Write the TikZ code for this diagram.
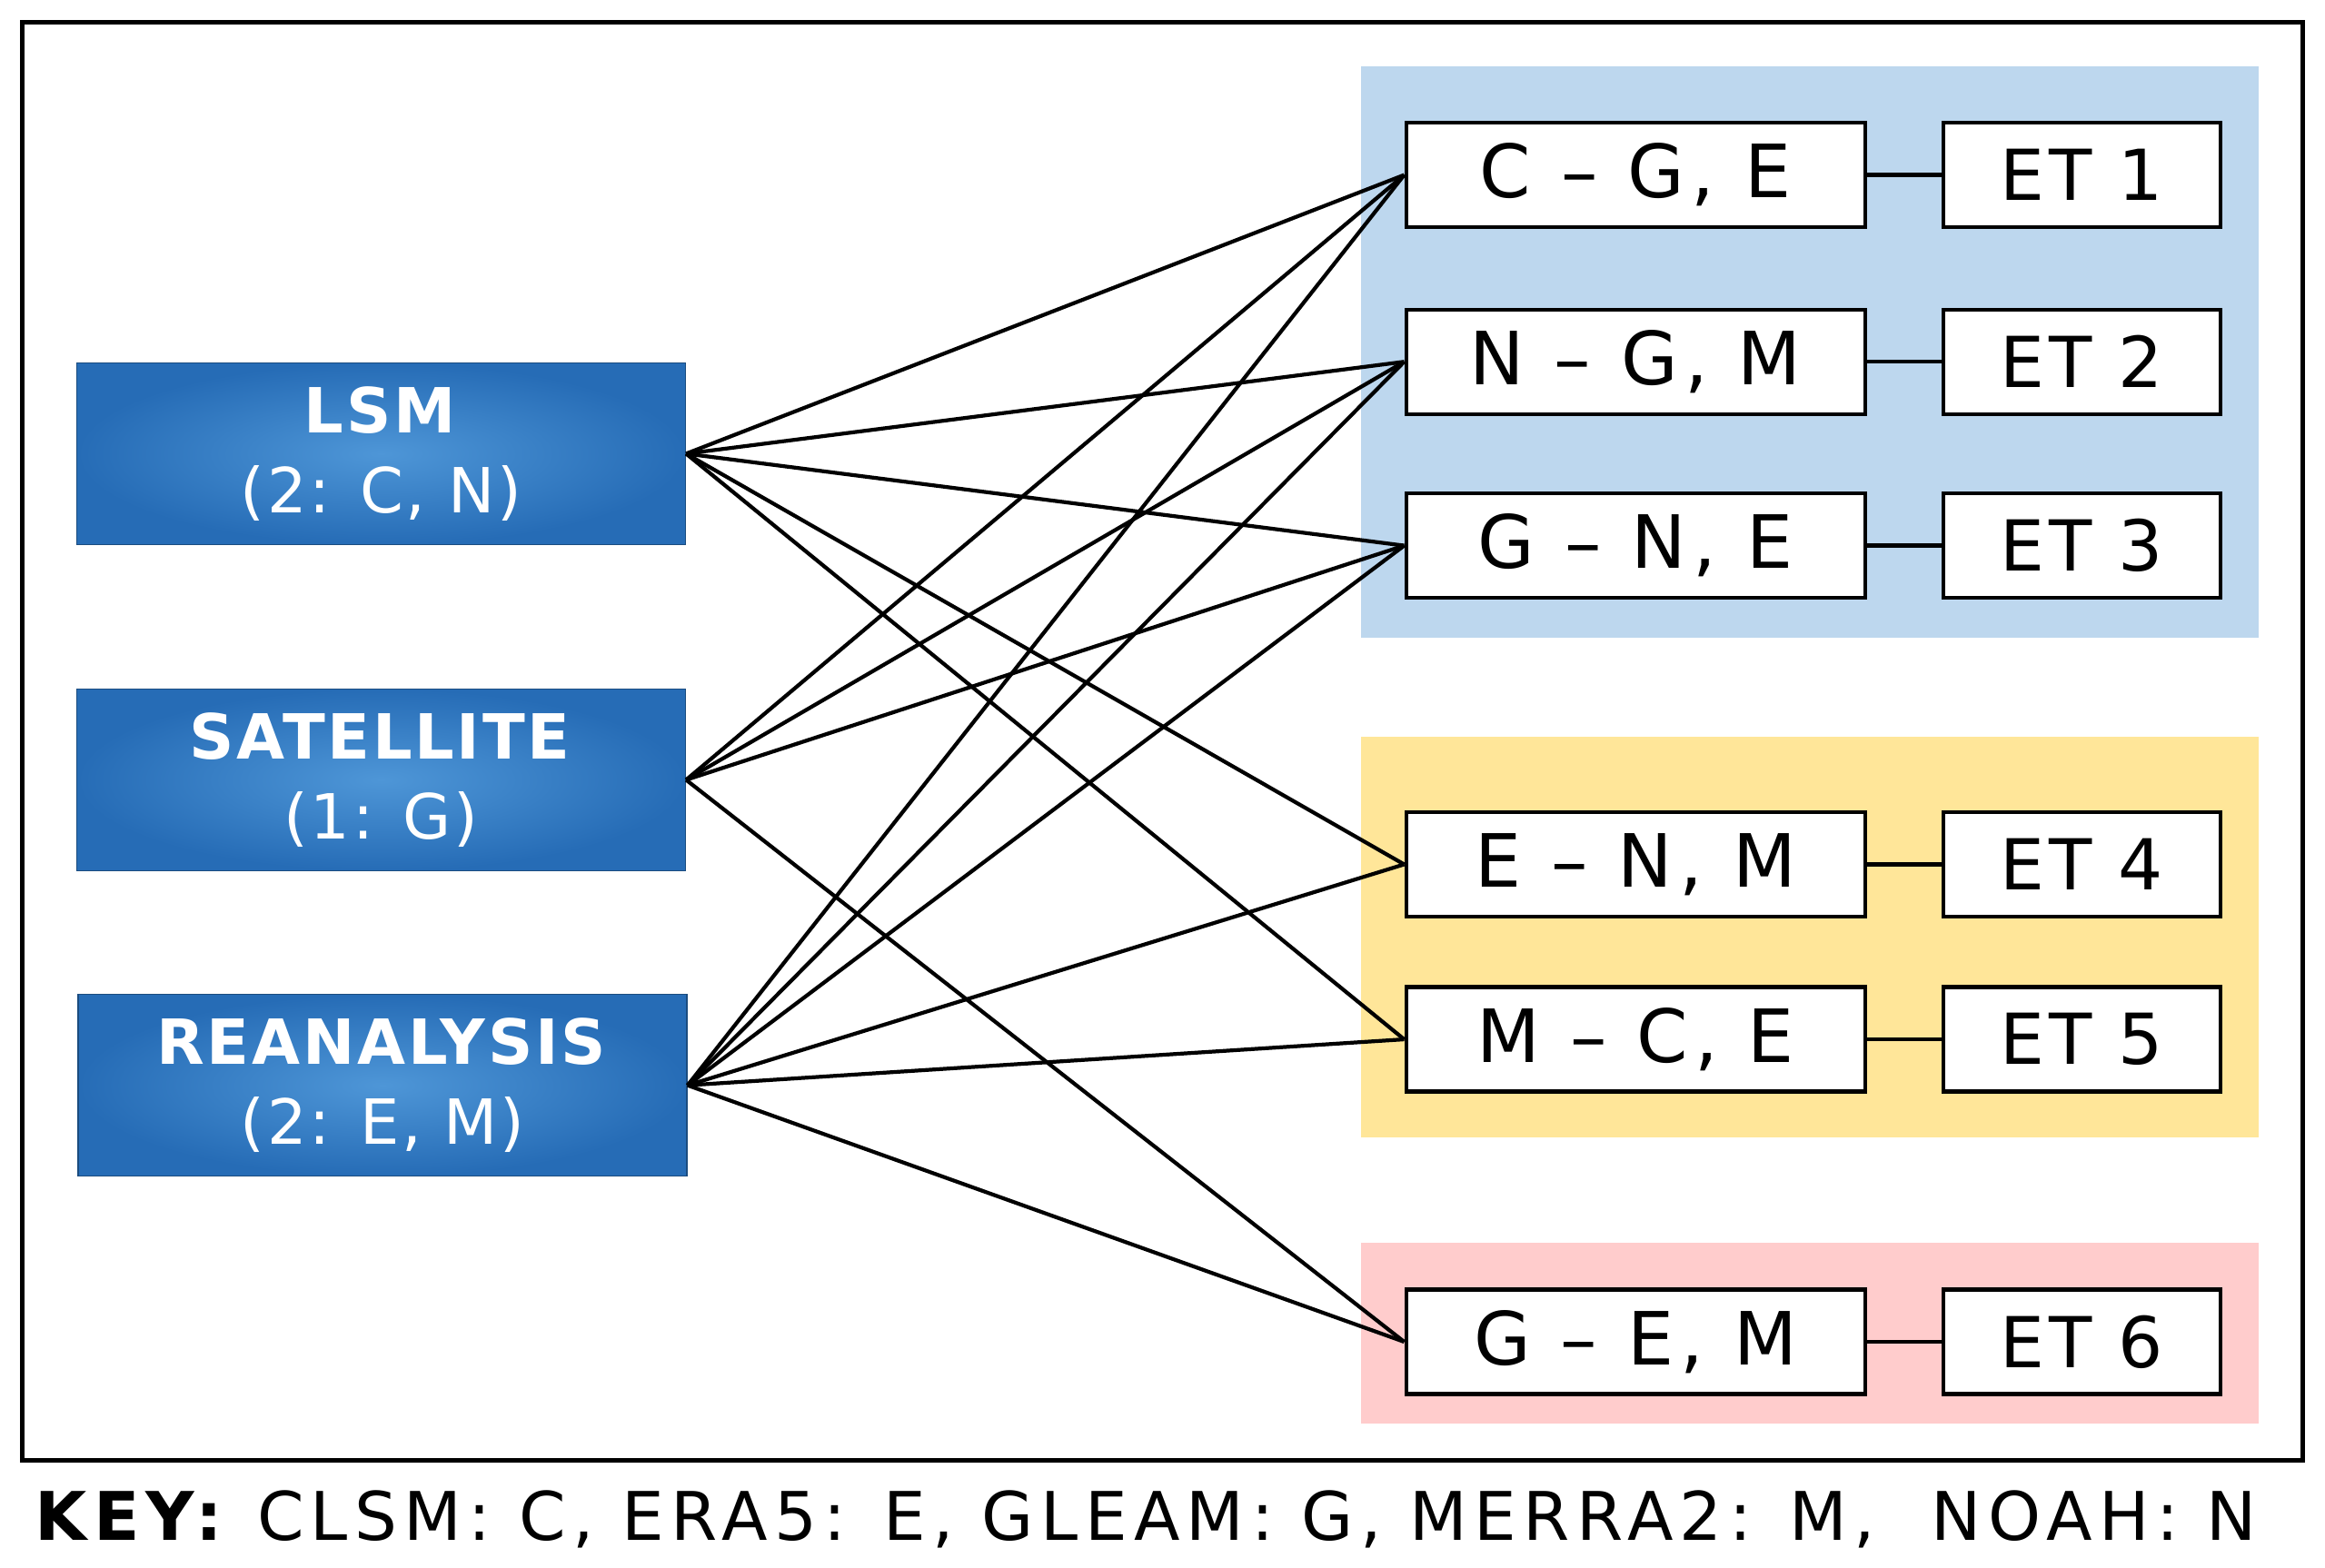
\documentclass[tikz,border=0pt]{standalone}
\usepackage{fontspec}
\setmainfont{DejaVu Sans}
\usetikzlibrary{positioning}
\definecolor{srcblue}{RGB}{38,108,182}
\definecolor{srclight}{RGB}{78,150,215}
\definecolor{bgblue}{RGB}{189,215,238}
\definecolor{bgyellow}{RGB}{255,230,153}
\definecolor{bgpink}{RGB}{255,204,204}
\tikzset{
  source/.style = {draw=srcblue!70!black, inner color=srclight, outer color=srcblue,
                   text=white, minimum width=67mm, minimum height=20mm, align=center,
                   font=\fontsize{19.5}{25}\selectfont\addfontfeature{LetterSpace=4}},
  combo/.style  = {draw, very thick, fill=white, minimum width=50.5mm, minimum height=11.5mm,
                   font=\fontsize{23}{24}\selectfont\addfontfeature{LetterSpace=9}},
  etbox/.style  = {draw, very thick, fill=white, minimum width=30.5mm, minimum height=11.5mm,
                   font=\fontsize{22}{24}\selectfont\addfontfeature{LetterSpace=6}},
  link/.style   = {draw, line width=1.2pt}
}
\begin{document}
\begin{tikzpicture}[x=0.1632mm, y=-0.1632mm]
\useasboundingbox (0,0) rectangle (1568,1057);

% frame and backgrounds
\draw[very thick] (15,15) rectangle (1553,985);
\fill[bgblue]   (918,45)  rectangle (1523,430);
\fill[bgyellow] (918,497) rectangle (1523,767);
\fill[bgpink]   (918,838) rectangle (1523,960);

% sources
\node (lsm) [source] at (257,306) {\textbf{LSM}\\(2: C, N)};
\node (sat) [source] at (257,526) {\textbf{SATELLITE}\\(1: G)};
\node (rea) [source] at (258,732) {\textbf{REANALYSIS}\\(2: E, M)};

% combinations
\node (c1) [combo] at (1103,118) {C -- G, E};
\node (c2) [combo] at (1103,244) {N -- G, M};
\node (c3) [combo] at (1103,368) {G -- N, E};
\node (c4) [combo] at (1103,583) {E -- N, M};
\node (c5) [combo] at (1103,701) {M -- C, E};
\node (c6) [combo] at (1103,905) {G -- E, M};

% ET products
\foreach \i/\y in {1/118,2/244,3/368,4/583,5/701,6/905}{
  \node (et\i) [etbox] at (1404,\y) {ET \i};
  \draw[very thick] (c\i) -- (et\i);
}

% links
\foreach \t in {1,2,3,4,5} \draw[link] (lsm.east) -- (c\t.west);
\foreach \t in {1,2,3,6}   \draw[link] (sat.east) -- (c\t.west);
\foreach \t in {1,2,3,4,5,6} \draw[link] (rea.east) -- (c\t.west);

% key
\node (key) [anchor=west, font=\fontsize{21}{24}\selectfont\addfontfeature{LetterSpace=10}] at (16,1025)
  {\textbf{KEY:} CLSM: C, ERA5: E, GLEAM: G, MERRA2: M,\ \ NOAH: N};
\end{tikzpicture}
\end{document}
